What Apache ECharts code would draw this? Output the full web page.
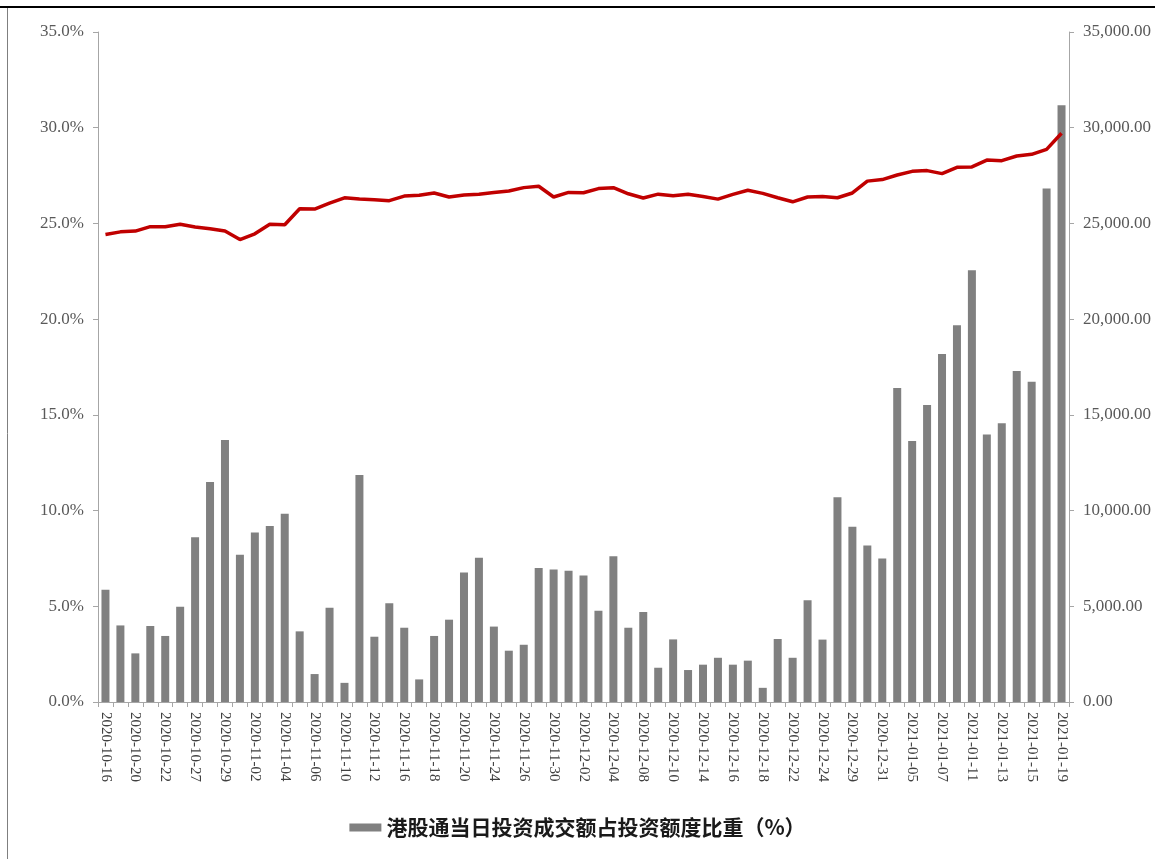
<!DOCTYPE html>
<html>
<head>
<meta charset="utf-8">
<script src="https://cdn.jsdelivr.net/npm/echarts@6/dist/echarts.min.js"></script>
<style>
html,body{margin:0;padding:0;background:#fff;}
#main{width:1155px;height:859px;}
</style>
</head>
<body>
<div id="main"></div>
<script>
const dates = [
"2020-10-16","2020-10-19","2020-10-20","2020-10-21","2020-10-22","2020-10-23","2020-10-27","2020-10-28","2020-10-29","2020-10-30",
"2020-11-02","2020-11-03","2020-11-04","2020-11-05","2020-11-06","2020-11-09","2020-11-10","2020-11-11","2020-11-12","2020-11-13",
"2020-11-16","2020-11-17","2020-11-18","2020-11-19","2020-11-20","2020-11-23","2020-11-24","2020-11-25","2020-11-26","2020-11-27",
"2020-11-30","2020-12-01","2020-12-02","2020-12-03","2020-12-04","2020-12-07","2020-12-08","2020-12-09","2020-12-10","2020-12-11",
"2020-12-14","2020-12-15","2020-12-16","2020-12-17","2020-12-18","2020-12-21","2020-12-22","2020-12-23","2020-12-24","2020-12-28",
"2020-12-29","2020-12-30","2020-12-31","2021-01-04","2021-01-05","2021-01-06","2021-01-07","2021-01-08","2021-01-11","2021-01-12",
"2021-01-13","2021-01-14","2021-01-15","2021-01-18","2021-01-19"
];
const barValues = [
5.87,4.00,2.54,3.97,3.45,4.98,8.60,11.49,13.69,7.69,
8.86,9.19,9.83,3.69,1.46,4.93,1.00,11.86,3.41,5.16,
3.88,1.18,3.45,4.30,6.76,7.53,3.94,2.68,2.99,7.00,
6.92,6.85,6.61,4.77,7.62,3.88,4.70,1.79,3.27,1.67,
1.95,2.31,1.95,2.16,0.74,3.29,2.31,5.31,3.26,10.69,
9.15,8.18,7.50,16.40,13.64,15.51,18.18,19.68,22.55,13.97,
14.56,17.29,16.73,26.83,31.18
];
const lineValues = [
24.42,24.56,24.60,24.83,24.83,24.96,24.81,24.72,24.60,24.16,
24.46,24.96,24.93,25.77,25.75,26.06,26.34,26.27,26.24,26.19,
26.43,26.47,26.59,26.38,26.48,26.52,26.61,26.69,26.87,26.94,
26.38,26.62,26.60,26.82,26.87,26.55,26.33,26.53,26.45,26.52,
26.41,26.27,26.52,26.73,26.57,26.34,26.13,26.38,26.41,26.34,
26.59,27.21,27.29,27.53,27.72,27.76,27.60,27.93,27.95,28.31,
28.28,28.52,28.61,28.87,29.71
];
const barName = "港股通当日投资成交额占投资额度比重（%）";

const chart = echarts.init(document.getElementById('main'), null, {renderer:'canvas'});
const axisColor = '#a6a6a6';
const labelColor = '#595959';
const serif = '"Liberation Serif","DejaVu Serif",serif';
chart.setOption({
  animation:false,
  backgroundColor:'#fff',
  graphic:[
    {type:'line', shape:{x1:0,y1:7,x2:1155,y2:7}, style:{stroke:'#000',lineWidth:2}},
    {type:'line', shape:{x1:7.5,y1:8,x2:7.5,y2:859}, style:{stroke:'#7f7f7f',lineWidth:1}}
  ],
  grid:{left:98, right:86, top:32, bottom:157},
  legend:{
    data:[{name:barName, icon:'rect'}], bottom:16, left:'center',
    itemWidth:32, itemHeight:8, itemGap:10,
    textStyle:{fontFamily:'"Noto Sans CJK SC"', fontSize:21, fontWeight:'bold', color:'#1a1a1a'}
  },
  xAxis:{
    type:'category', data:dates, boundaryGap:true,
    axisLine:{lineStyle:{color:axisColor}},
    axisTick:{show:true, interval:0, length:5, lineStyle:{color:axisColor}},
    axisLabel:{interval:1, rotate:-90, margin:10, fontFamily:serif, fontSize:15, color:'#404040'}
  },
  yAxis:[
    {type:'value', min:0, max:35, interval:5, position:'left',
     axisLine:{show:true, lineStyle:{color:axisColor}},
     axisTick:{show:true, length:5, lineStyle:{color:axisColor}},
     splitLine:{show:false},
     axisLabel:{formatter:v=>v.toFixed(1)+'%', fontFamily:serif, fontSize:17, color:labelColor, margin:14}},
    {type:'value', min:0, max:35000, interval:5000, position:'right',
     axisLine:{show:true, lineStyle:{color:axisColor}},
     axisTick:{show:true, length:5, lineStyle:{color:axisColor}},
     splitLine:{show:false},
     axisLabel:{formatter:v=>v.toLocaleString('en-US',{minimumFractionDigits:2,maximumFractionDigits:2}), fontFamily:serif, fontSize:17, color:labelColor, margin:14}}
  ],
  series:[
    {name:barName, type:'bar', yAxisIndex:0, data:barValues, barWidth:8,
     itemStyle:{color:'#808080'}},
    {name:'line', type:'line', yAxisIndex:0, data:lineValues, symbol:'none',
     lineStyle:{color:'#c00000', width:3.5}, itemStyle:{color:'#c00000'}, z:5}
  ]
});
</script>
</body>
</html>
